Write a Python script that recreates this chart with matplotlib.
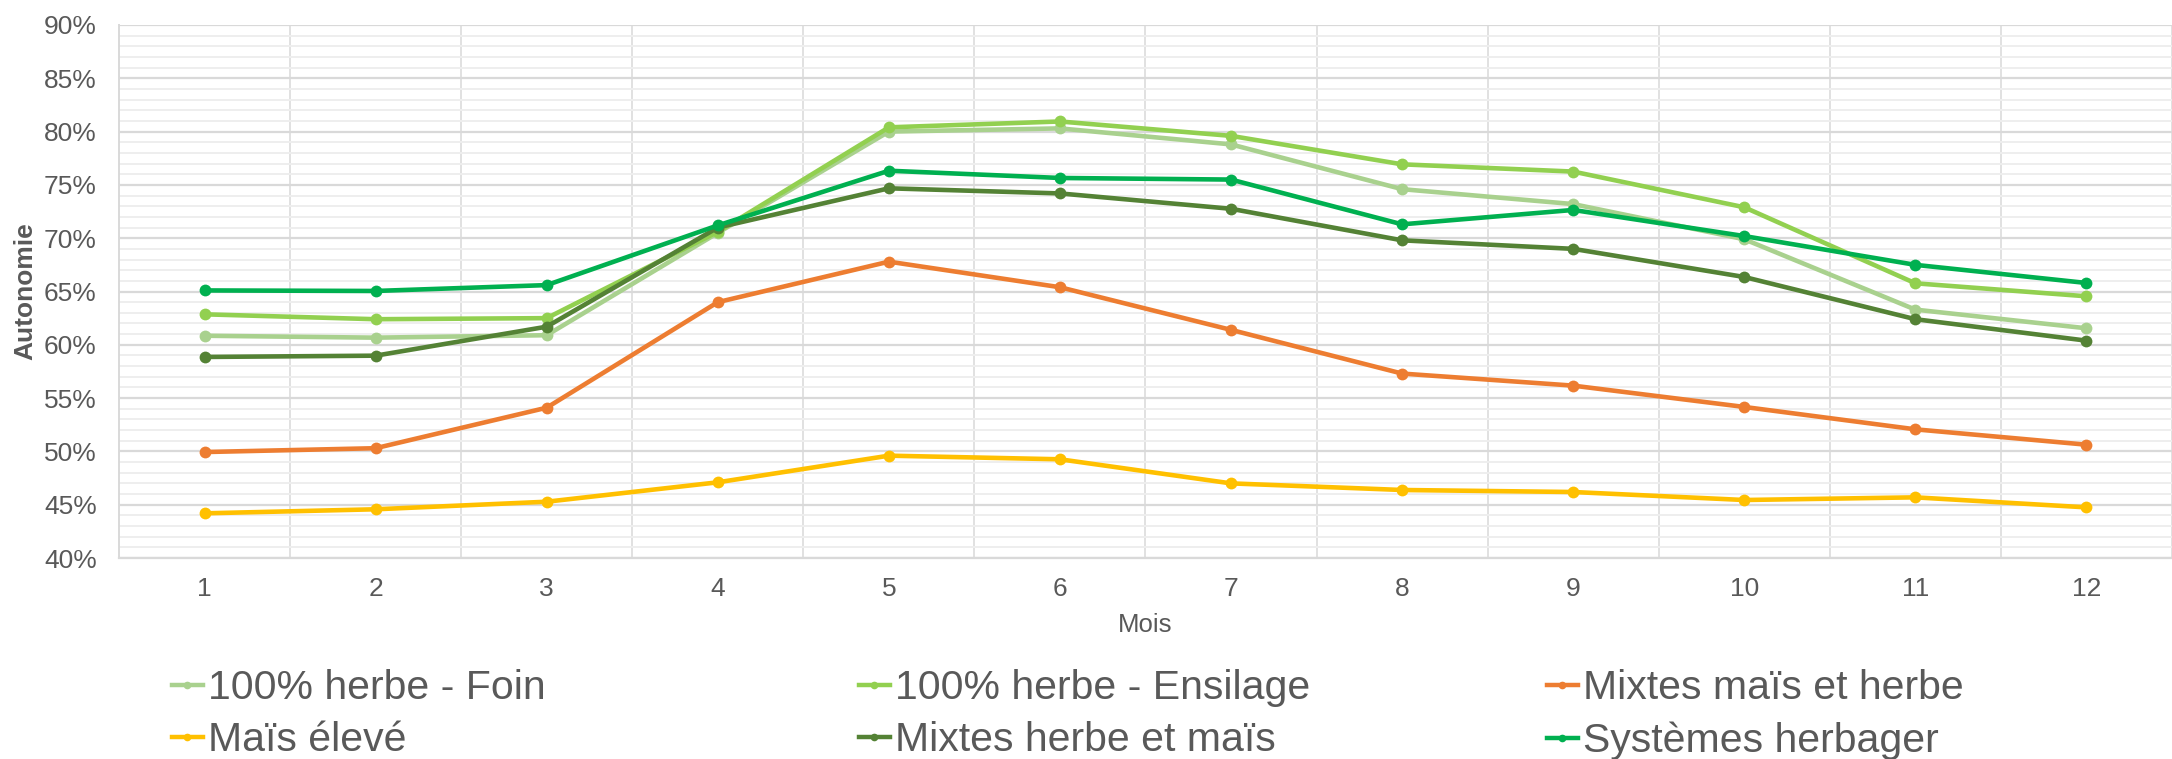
import matplotlib
matplotlib.use("Agg")
import matplotlib.pyplot as plt
from matplotlib.ticker import MultipleLocator, FuncFormatter
from matplotlib.lines import Line2D

# Monthly forage autonomy (%) by farming system
months = [1, 2, 3, 4, 5, 6, 7, 8, 9, 10, 11, 12]
month_labels = ["1", "2", "3", "4", "5", "6", "7", "8", "9", "10", "11", "12"]

herbe_foin = [60.85, 60.67, 60.9, 70.5, 80.0, 80.3, 78.8, 74.6, 73.2, 69.9, 63.3, 61.55]
herbe_ensilage = [62.86, 62.4, 62.5, 70.6, 80.4, 80.95, 79.6, 76.93, 76.25, 72.9, 65.77, 64.55]
mixtes_mais_herbe = [49.94, 50.3, 54.1, 64.0, 67.8, 65.4, 61.4, 57.3, 56.17, 54.17, 52.07, 50.63]
mais_eleve = [44.19, 44.57, 45.28, 47.1, 49.6, 49.26, 47.0, 46.38, 46.19, 45.44, 45.69, 44.75]
mixtes_herbe_mais = [58.86, 58.98, 61.7, 71.0, 74.68, 74.2, 72.76, 69.8, 69.0, 66.36, 62.4, 60.39]
systemes_herbager = [65.1, 65.05, 65.6, 71.2, 76.33, 75.65, 75.5, 71.3, 72.65, 70.2, 67.5, 65.8]

series_names = ["100% herbe - Foin", "100% herbe - Ensilage", "Mixtes maïs et herbe",
                "Maïs élevé", "Mixtes herbe et maïs", "Systèmes herbager"]
series_values = [herbe_foin, herbe_ensilage, mixtes_mais_herbe,
                 mais_eleve, mixtes_herbe_mais, systemes_herbager]
series_colors = ["#A9D18E", "#92D050", "#ED7D31", "#FFC000", "#548235", "#00B050"]

TEXT = "#595959"
plt.rcParams["font.family"] = ["Liberation Sans", "DejaVu Sans"]

W, H = 2172, 759
fig = plt.figure(figsize=(W / 100, H / 100), dpi=100)
ax = fig.add_axes([119 / W, 1 - 558 / H, 1 - 119 / W, (558 - 25) / H])

handles = []
for name, vals, col in zip(series_names, series_values, series_colors):
    ln, = ax.plot(months, vals, color=col, lw=3.3, marker="o", ms=8.5,
                  markeredgewidth=0, label=name, solid_capstyle="round", zorder=3)
    handles.append(ln)

ax.set_xlim(0.5, 0.5 + (W - 119) / 172.3)
ax.set_ylim(40, 90)

ax.yaxis.set_major_locator(MultipleLocator(5))
ax.yaxis.set_minor_locator(MultipleLocator(1))
ax.yaxis.set_major_formatter(FuncFormatter(lambda v, p: f"{v:.0f}%"))
ax.set_xticks(months)
ax.set_xticklabels(month_labels)
ax.set_xticks([m + 0.5 for m in months], minor=True)

ax.grid(axis="y", which="minor", color="#EEEEEE", lw=1.4, zorder=0)
ax.grid(axis="y", which="major", color="#D9D9D9", lw=1.6, zorder=0)
ax.grid(axis="x", which="minor", color="#D9D9D9", lw=1.1, zorder=0)
ax.grid(axis="x", which="major", visible=False)

for s in ["top", "right"]:
    ax.spines[s].set_visible(False)
ax.spines["left"].set_color("#D9D9D9")
ax.spines["left"].set_linewidth(1.4)
ax.spines["bottom"].set_color("#D9D9D9")
ax.spines["bottom"].set_linewidth(1.6)

ax.tick_params(axis="both", which="both", length=0, colors=TEXT, labelsize=19)
ax.tick_params(axis="y", pad=16)
ax.tick_params(axis="x", pad=14)

ax.set_xlabel("Mois", fontsize=18.5, color=TEXT, labelpad=8)
ax.set_ylabel("Autonomie", fontsize=19, color=TEXT, fontweight="bold", labelpad=5)

# Legend: three columns, each a separate block so column starts can be placed freely
col_x = [172, 859, 1547]
top_y = 669
for i, x0 in enumerate(col_x):
    hs = [handles[i], handles[i + 3]]
    leg_handles = [Line2D([0], [0], color=h.get_color(), lw=3.2, marker="o", ms=5.5,
                          markeredgewidth=0) for h in hs]
    fig.legend(leg_handles, [h.get_label() for h in hs],
               loc="upper left", bbox_to_anchor=(x0 / W, 1 - top_y / H),
               bbox_transform=fig.transFigure, frameon=False,
               fontsize=29.5, labelcolor=TEXT, handlelength=0.75,
               handletextpad=0.12, labelspacing=0.35,
               borderpad=0, borderaxespad=0)

fig.savefig("out.png", dpi=100, facecolor="white")
